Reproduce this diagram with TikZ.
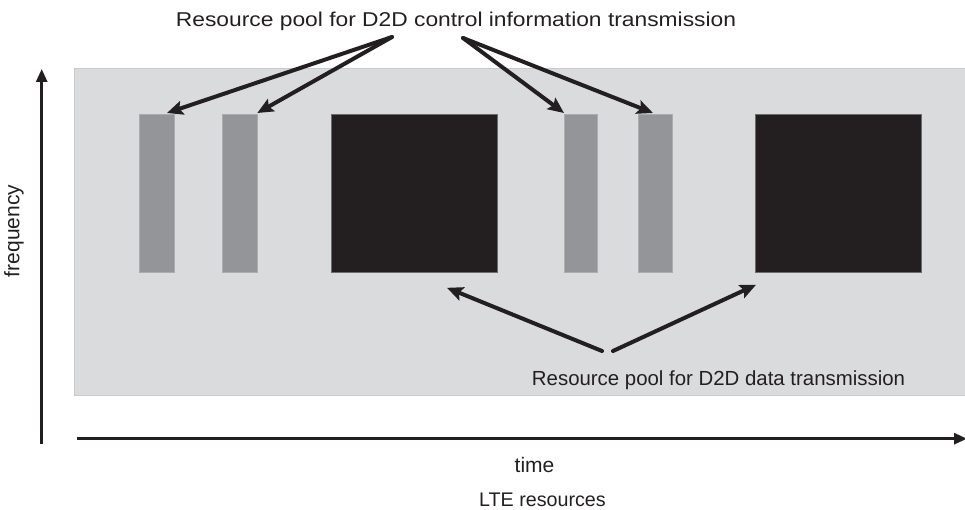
\documentclass[tikz,border=0pt]{standalone}
\usepackage{fontspec}
\setmainfont{Liberation Sans}
\newfontfamily\titlefont[FakeStretch=1.14]{Liberation Sans}
\usetikzlibrary{arrows.meta,calc}
\definecolor{bggray}{HTML}{DADBDD}
\definecolor{bgedge}{HTML}{C9CACC}
\definecolor{bargray}{HTML}{939598}
\definecolor{baredge}{HTML}{ABACAE}
\definecolor{blk}{HTML}{231F20}
\definecolor{blkedge}{HTML}{6D6B6C}
\begin{document}
\begin{tikzpicture}[x=1pt,y=-1pt,
  blockbox/.style={inner sep=0pt, outer sep=0pt, anchor=north west, line width=0.8pt},
  ctlbar/.style={blockbox, fill=bargray, draw=baredge, minimum width=34pt, minimum height=158.5pt},
  databox/.style={blockbox, fill=blk, draw=blkedge, minimum height=158.5pt},
  ptr/.style={line width=4pt, line cap=round, draw=blk, -{Stealth[length=16pt,width=14pt,inset=3pt]}},
  axis/.style={line width=2.8pt, draw=blk, -{Triangle[length=13pt,width=11pt]}},
  lbl/.style={inner sep=0pt, anchor=base, text=blk, font=\fontsize{20.4pt}{22pt}\selectfont}
]
\useasboundingbox (0,0) rectangle (965,510);
% background resource grid
\node[blockbox, fill=bggray, draw=bgedge, minimum width=900pt, minimum height=327.7pt] (bg) at (74,68) {};
% control bars
\node[ctlbar, minimum width=35pt] (b1) at (139,114) {};
\node[ctlbar, minimum width=34.6pt] (b2) at (222.7,114) {};
\node[ctlbar, minimum width=33.5pt] (b3) at (564,114) {};
\node[ctlbar, minimum width=34pt] (b4) at (638,114) {};
% data blocks
\node[databox, minimum width=165.3pt] (d1) at (331.7,114) {};
\node[databox, minimum width=166pt] (d2) at (755,114) {};
% axes
\coordinate (fbot) at (41.7,444);
\coordinate (ftop) at (41.7,69);
\coordinate (tleft) at (77,438.7);
\coordinate (tright) at (967,438.7);
\draw[axis] (fbot) -- (ftop);
\draw[axis] (tleft) -- (tright);
% labels
\node[lbl, font=\titlefont\fontsize{20pt}{22pt}\selectfont] (title) at (456,26.5) {Resource pool for D2D control information transmission};
\node[lbl] (datalbl) at (718.5,385) {Resource pool for D2D data transmission};
\node[lbl, font=\fontsize{21pt}{23pt}\selectfont] (time) at (534.5,472.7) {time};
\node[lbl, font=\fontsize{19.7pt}{22pt}\selectfont] (lte) at (542.5,506) {LTE resources};
\node[lbl, rotate=90, font=\fontsize{21pt}{23pt}\selectfont] (freq) at (19.3,231) {frequency};
% pointer arrows, control
\coordinate (ctl) at (392,37);
\coordinate (ctr) at (463,38);
\draw[ptr] (ctl) -- ($(b1.north east)+(-7,-1)$);
\draw[ptr] (ctl) -- ($(b2.north east)+(0,-1)$);
\draw[ptr] (ctr) -- ($(b3.north west)+(0,-1)$);
\draw[ptr] (ctr) -- ($(b4.north)+(-2,-1)$);
% pointer arrows, data
\coordinate (dtl) at (602,351);
\coordinate (dtr) at (613,351);
\draw[ptr] (dtl) -- ($(d1.south east)+(-50,15.3)$);
\draw[ptr] (dtr) -- ($(d2.south west)+(1,12.3)$);
\end{tikzpicture}
\end{document}
